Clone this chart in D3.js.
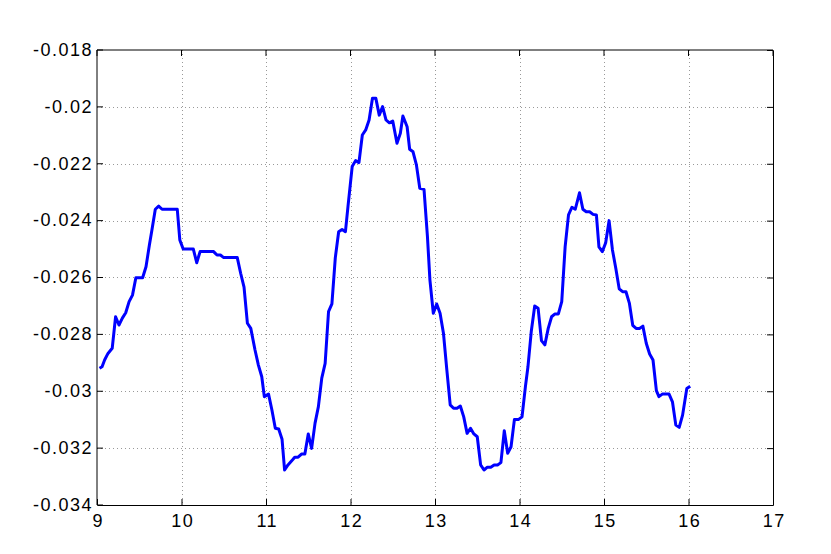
<!DOCTYPE html>
<html>
<head>
<meta charset="utf-8">
<script src="https://cdn.jsdelivr.net/npm/d3@7"></script>
<style>
html,body{margin:0;padding:0;background:#fff;}
svg{display:block;}
text{font-family:"Liberation Sans",Arial,Helvetica,sans-serif;}
</style>
</head>
<body>
<svg id="chart" width="831" height="554"></svg>
<script>
const xTicks = [9, 10, 11, 12, 13, 14, 15, 16, 17];
const yTicks = [-0.034, -0.032, -0.03, -0.028, -0.026, -0.024, -0.022, -0.02, -0.018];
const yTickLabels = ["-0.034", "-0.032", "-0.03", "-0.028", "-0.026", "-0.024", "-0.022", "-0.02", "-0.018"];

const xs = [9.03, 9.06, 9.09, 9.13, 9.18, 9.22, 9.26, 9.30, 9.34, 9.38,
  9.42, 9.46, 9.54, 9.58, 9.62, 9.65, 9.69, 9.73, 9.77, 9.95,
  9.98, 10.02, 10.14, 10.18, 10.22, 10.38, 10.42, 10.46, 10.50, 10.66,
  10.70, 10.74, 10.78, 10.82, 10.87, 10.91, 10.95, 10.98, 11.03, 11.07,
  11.11, 11.15, 11.19, 11.22, 11.26, 11.32, 11.34, 11.38, 11.42, 11.46,
  11.50, 11.54, 11.58, 11.62, 11.66, 11.70, 11.74, 11.78, 11.82, 11.86,
  11.90, 11.94, 11.97, 12.02, 12.06, 12.10, 12.14, 12.18, 12.22, 12.26,
  12.30, 12.34, 12.38, 12.42, 12.46, 12.50, 12.55, 12.59, 12.62, 12.67,
  12.70, 12.74, 12.78, 12.82, 12.87, 12.91, 12.94, 12.98, 13.02, 13.06,
  13.10, 13.14, 13.18, 13.22, 13.26, 13.30, 13.34, 13.38, 13.42, 13.46,
  13.50, 13.54, 13.58, 13.62, 13.66, 13.70, 13.74, 13.78, 13.82, 13.86,
  13.90, 13.94, 13.99, 14.03, 14.07, 14.10, 14.14, 14.18, 14.22, 14.26,
  14.30, 14.34, 14.38, 14.42, 14.46, 14.50, 14.54, 14.58, 14.62, 14.66,
  14.71, 14.75, 14.79, 14.83, 14.87, 14.91, 14.94, 14.98, 15.02, 15.06,
  15.10, 15.14, 15.18, 15.22, 15.26, 15.30, 15.34, 15.38, 15.42, 15.46,
  15.50, 15.54, 15.58, 15.62, 15.65, 15.69, 15.77, 15.81, 15.85, 15.89,
  15.93, 15.98, 16.02];

const ys = [-0.02919, -0.02914, -0.02890, -0.02867, -0.02849, -0.02738, -0.02767, -0.02743, -0.02724, -0.02685,
  -0.02662, -0.02601, -0.02601, -0.02562, -0.02486, -0.02433, -0.02360, -0.02349, -0.02360, -0.02360,
  -0.02468, -0.02500, -0.02500, -0.02548, -0.02509, -0.02509, -0.02521, -0.02521, -0.02530, -0.02530,
  -0.02585, -0.02634, -0.02761, -0.02779, -0.02855, -0.02908, -0.02949, -0.03019, -0.03010, -0.03066,
  -0.03130, -0.03133, -0.03169, -0.03277, -0.03259, -0.03239, -0.03232, -0.03232, -0.03221, -0.03221,
  -0.03150, -0.03201, -0.03113, -0.03054, -0.02954, -0.02902, -0.02720, -0.02693, -0.02531, -0.02439,
  -0.02431, -0.02439, -0.02351, -0.02210, -0.02189, -0.02196, -0.02099, -0.02081, -0.02046, -0.01970,
  -0.01970, -0.02029, -0.01999, -0.02046, -0.02056, -0.02050, -0.02128, -0.02093, -0.02032, -0.02070,
  -0.02149, -0.02158, -0.02204, -0.02286, -0.02290, -0.02454, -0.02609, -0.02726, -0.02693, -0.02726,
  -0.02796, -0.02925, -0.03048, -0.03060, -0.03060, -0.03052, -0.03090, -0.03148, -0.03130, -0.03150,
  -0.03160, -0.03259, -0.03277, -0.03267, -0.03267, -0.03259, -0.03259, -0.03251, -0.03139, -0.03218,
  -0.03195, -0.03099, -0.03099, -0.03090, -0.02984, -0.02914, -0.02788, -0.02700, -0.02708, -0.02822,
  -0.02837, -0.02779, -0.02738, -0.02728, -0.02728, -0.02685, -0.02492, -0.02380, -0.02353, -0.02360,
  -0.02302, -0.02360, -0.02369, -0.02369, -0.02378, -0.02380, -0.02492, -0.02509, -0.02478, -0.02400,
  -0.02503, -0.02568, -0.02640, -0.02650, -0.02650, -0.02690, -0.02768, -0.02779, -0.02779, -0.02771,
  -0.02831, -0.02869, -0.02890, -0.02998, -0.03019, -0.03010, -0.03010, -0.03037, -0.03119, -0.03127,
  -0.03084, -0.02990, -0.02982];

const W = 831, H = 554;
const m = {left: 97, right: 58, top: 50, bottom: 49};
const svg = d3.select("#chart");

const x = d3.scaleLinear().domain([9, 17]).range([m.left, W - m.right]);
const y = d3.scaleLinear().domain([-0.034, -0.018]).range([H - m.bottom, m.top]);

const x0 = x.range()[0], x1 = x.range()[1];
const y0 = y.range()[0], y1 = y.range()[1];

// grid
const grid = svg.append("g").attr("stroke", "#999").attr("stroke-width", 1)
  .attr("stroke-dasharray", "1,3").attr("shape-rendering", "crispEdges");
grid.selectAll("line.gx").data(xTicks.slice(1, -1)).enter().append("line")
  .attr("x1", d => Math.round(x(d)) + 0.5).attr("x2", d => Math.round(x(d)) + 0.5)
  .attr("y1", y1).attr("y2", y0);
grid.selectAll("line.gy").data(yTicks.slice(1, -1)).enter().append("line")
  .attr("y1", d => Math.round(y(d)) + 0.5).attr("y2", d => Math.round(y(d)) + 0.5)
  .attr("x1", x0).attr("x2", x1);

// data line
const line = d3.line().x((d, i) => x(xs[i])).y(d => y(d));
svg.append("path").datum(ys).attr("d", line)
  .attr("fill", "none").attr("stroke", "#0000ff").attr("stroke-width", 3)
  .attr("stroke-linejoin", "round");

// axes (MATLAB style, inward ticks)
const tickLen = 6;
const xAxisB = d3.axisBottom(x).tickValues(xTicks).tickSizeInner(-tickLen).tickSizeOuter(0).tickPadding(9).tickFormat(d3.format("d"));
const xAxisT = d3.axisTop(x).tickValues(xTicks).tickSizeInner(-tickLen).tickSizeOuter(0).tickFormat("").offset(0);
const yAxisL = d3.axisLeft(y).tickValues(yTicks).tickSizeInner(-tickLen).tickSizeOuter(0).tickPadding(4)
  .tickFormat((d, i) => yTickLabels[i]).offset(0);
const yAxisR = d3.axisRight(y).tickValues(yTicks).tickSizeInner(-tickLen).tickSizeOuter(0).tickFormat("");

function style(g) {
  g.select(".domain").attr("stroke", "#000").attr("stroke-width", 1);
  g.selectAll(".tick line").attr("stroke", "#000").attr("stroke-width", 1);
  g.selectAll(".tick text").attr("fill", "#000").attr("font-size", 18)
    .attr("font-family", "'Liberation Sans', Arial, sans-serif").style("letter-spacing", "1.5px");
}
svg.append("g").attr("transform", `translate(0,${y0})`).call(xAxisB).call(style)
  .selectAll(".tick text").attr("dx", 0.75);
svg.append("g").attr("transform", `translate(0,${y1})`).call(xAxisT).call(style);
svg.append("g").attr("transform", `translate(${x0},0)`).call(yAxisL).call(style);
svg.append("g").attr("transform", `translate(${x1},0)`).call(yAxisR).call(style);
</script>
</body>
</html>
